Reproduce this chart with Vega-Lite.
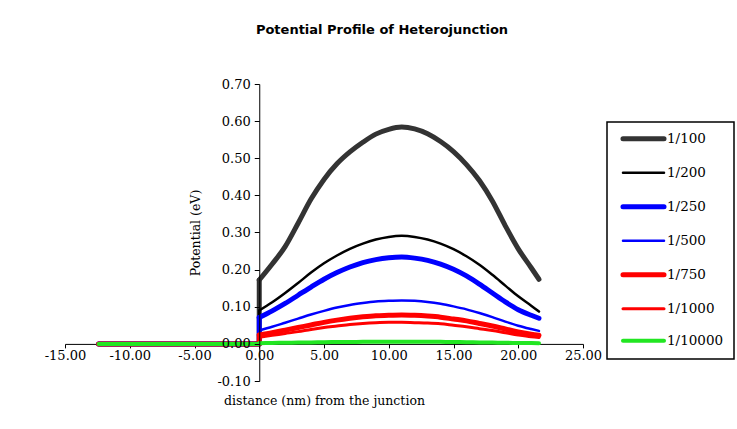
{
"$schema": "https://vega.github.io/schema/vega-lite/v6.json",
"width": 518, "height": 297,
"autosize": {"type": "none"},
"padding": {"left": 65, "top": 84, "right": 154, "bottom": 48},
"background": "white",
"title": {"text": "Potential Profile of Heterojunction", "font": "DejaVu Sans", "fontSize": 13, "fontWeight": "bold", "color": "#000000", "anchor": "middle", "frame": "group", "dx": 58, "offset": 41},
"config": {
  "view": {"stroke": null},
  "axis": {"grid": false, "domainColor": "#000000", "domainWidth": 1, "tickColor": "#000000", "tickWidth": 1, "labelFont": "DejaVu Serif", "labelFontSize": 13, "labelColor": "#000000", "titleFont": "DejaVu Serif", "titleFontSize": 12.5, "titleFontWeight": "normal", "titleColor": "#000000", "labelOverlap": false, "labelFlush": false},
  "legend": {"strokeWidth": 1.5}
},
"data": {"values": [
{"s":"1/100","p":"a","i":0,"x":-12.4,"v":0},{"s":"1/100","p":"a","i":1,"x":0,"v":0},{"s":"1/100","p":"a","i":2,"x":0,"v":0.172},
{"s":"1/100","p":"b","i":3,"x":0,"v":0.172},{"s":"1/100","p":"b","i":4,"x":1,"v":0.215},{"s":"1/100","p":"b","i":5,"x":2,"v":0.262},{"s":"1/100","p":"b","i":6,"x":3,"v":0.325},{"s":"1/100","p":"b","i":7,"x":4,"v":0.39},{"s":"1/100","p":"b","i":8,"x":5,"v":0.443},{"s":"1/100","p":"b","i":9,"x":6,"v":0.485},{"s":"1/100","p":"b","i":10,"x":7,"v":0.517},{"s":"1/100","p":"b","i":11,"x":8,"v":0.543},{"s":"1/100","p":"b","i":12,"x":9,"v":0.565},{"s":"1/100","p":"b","i":13,"x":10,"v":0.578},{"s":"1/100","p":"b","i":14,"x":11,"v":0.584},{"s":"1/100","p":"b","i":15,"x":12,"v":0.579},{"s":"1/100","p":"b","i":16,"x":13,"v":0.566},{"s":"1/100","p":"b","i":17,"x":14,"v":0.545},{"s":"1/100","p":"b","i":18,"x":15,"v":0.518},{"s":"1/100","p":"b","i":19,"x":16,"v":0.483},{"s":"1/100","p":"b","i":20,"x":17,"v":0.44},{"s":"1/100","p":"b","i":21,"x":18,"v":0.385},{"s":"1/100","p":"b","i":22,"x":19,"v":0.318},{"s":"1/100","p":"b","i":23,"x":20,"v":0.256},{"s":"1/100","p":"b","i":24,"x":21,"v":0.205},{"s":"1/100","p":"b","i":25,"x":21.6,"v":0.174},
{"s":"1/200","p":"a","i":0,"x":-12.4,"v":0},{"s":"1/200","p":"a","i":1,"x":0,"v":0},{"s":"1/200","p":"a","i":2,"x":0,"v":0.09},
{"s":"1/200","p":"b","i":3,"x":0,"v":0.09},{"s":"1/200","p":"b","i":4,"x":1,"v":0.112},{"s":"1/200","p":"b","i":5,"x":2,"v":0.137},{"s":"1/200","p":"b","i":6,"x":3,"v":0.164},{"s":"1/200","p":"b","i":7,"x":4,"v":0.192},{"s":"1/200","p":"b","i":8,"x":5,"v":0.217},{"s":"1/200","p":"b","i":9,"x":6,"v":0.238},{"s":"1/200","p":"b","i":10,"x":7,"v":0.256},{"s":"1/200","p":"b","i":11,"x":8,"v":0.27},{"s":"1/200","p":"b","i":12,"x":9,"v":0.281},{"s":"1/200","p":"b","i":13,"x":10,"v":0.288},{"s":"1/200","p":"b","i":14,"x":11,"v":0.291},{"s":"1/200","p":"b","i":15,"x":12,"v":0.288},{"s":"1/200","p":"b","i":16,"x":13,"v":0.281},{"s":"1/200","p":"b","i":17,"x":14,"v":0.27},{"s":"1/200","p":"b","i":18,"x":15,"v":0.255},{"s":"1/200","p":"b","i":19,"x":16,"v":0.236},{"s":"1/200","p":"b","i":20,"x":17,"v":0.213},{"s":"1/200","p":"b","i":21,"x":18,"v":0.186},{"s":"1/200","p":"b","i":22,"x":19,"v":0.157},{"s":"1/200","p":"b","i":23,"x":20,"v":0.128},{"s":"1/200","p":"b","i":24,"x":21,"v":0.103},{"s":"1/200","p":"b","i":25,"x":21.6,"v":0.087},
{"s":"1/250","p":"a","i":0,"x":-12.4,"v":0},{"s":"1/250","p":"a","i":1,"x":0,"v":0},{"s":"1/250","p":"a","i":2,"x":0,"v":0.071},
{"s":"1/250","p":"b","i":3,"x":0,"v":0.071},{"s":"1/250","p":"b","i":4,"x":1,"v":0.089},{"s":"1/250","p":"b","i":5,"x":2,"v":0.109},{"s":"1/250","p":"b","i":6,"x":3,"v":0.131},{"s":"1/250","p":"b","i":7,"x":4,"v":0.153},{"s":"1/250","p":"b","i":8,"x":5,"v":0.174},{"s":"1/250","p":"b","i":9,"x":6,"v":0.192},{"s":"1/250","p":"b","i":10,"x":7,"v":0.207},{"s":"1/250","p":"b","i":11,"x":8,"v":0.219},{"s":"1/250","p":"b","i":12,"x":9,"v":0.227},{"s":"1/250","p":"b","i":13,"x":10,"v":0.232},{"s":"1/250","p":"b","i":14,"x":11,"v":0.234},{"s":"1/250","p":"b","i":15,"x":12,"v":0.231},{"s":"1/250","p":"b","i":16,"x":13,"v":0.225},{"s":"1/250","p":"b","i":17,"x":14,"v":0.215},{"s":"1/250","p":"b","i":18,"x":15,"v":0.201},{"s":"1/250","p":"b","i":19,"x":16,"v":0.183},{"s":"1/250","p":"b","i":20,"x":17,"v":0.161},{"s":"1/250","p":"b","i":21,"x":18,"v":0.137},{"s":"1/250","p":"b","i":22,"x":19,"v":0.113},{"s":"1/250","p":"b","i":23,"x":20,"v":0.092},{"s":"1/250","p":"b","i":24,"x":21,"v":0.077},{"s":"1/250","p":"b","i":25,"x":21.6,"v":0.069},
{"s":"1/500","p":"a","i":0,"x":-12.4,"v":0},{"s":"1/500","p":"a","i":1,"x":0,"v":0},{"s":"1/500","p":"a","i":2,"x":0,"v":0.036},
{"s":"1/500","p":"b","i":3,"x":0,"v":0.036},{"s":"1/500","p":"b","i":4,"x":1,"v":0.046},{"s":"1/500","p":"b","i":5,"x":2,"v":0.057},{"s":"1/500","p":"b","i":6,"x":3,"v":0.068},{"s":"1/500","p":"b","i":7,"x":4,"v":0.079},{"s":"1/500","p":"b","i":8,"x":5,"v":0.089},{"s":"1/500","p":"b","i":9,"x":6,"v":0.098},{"s":"1/500","p":"b","i":10,"x":7,"v":0.105},{"s":"1/500","p":"b","i":11,"x":8,"v":0.11},{"s":"1/500","p":"b","i":12,"x":9,"v":0.114},{"s":"1/500","p":"b","i":13,"x":10,"v":0.116},{"s":"1/500","p":"b","i":14,"x":11,"v":0.117},{"s":"1/500","p":"b","i":15,"x":12,"v":0.116},{"s":"1/500","p":"b","i":16,"x":13,"v":0.113},{"s":"1/500","p":"b","i":17,"x":14,"v":0.108},{"s":"1/500","p":"b","i":18,"x":15,"v":0.101},{"s":"1/500","p":"b","i":19,"x":16,"v":0.093},{"s":"1/500","p":"b","i":20,"x":17,"v":0.083},{"s":"1/500","p":"b","i":21,"x":18,"v":0.072},{"s":"1/500","p":"b","i":22,"x":19,"v":0.06},{"s":"1/500","p":"b","i":23,"x":20,"v":0.049},{"s":"1/500","p":"b","i":24,"x":21,"v":0.04},{"s":"1/500","p":"b","i":25,"x":21.6,"v":0.035},
{"s":"1/750","p":"a","i":0,"x":-12.4,"v":0},{"s":"1/750","p":"a","i":1,"x":0,"v":0},{"s":"1/750","p":"a","i":2,"x":0,"v":0.024},
{"s":"1/750","p":"b","i":3,"x":0,"v":0.024},{"s":"1/750","p":"b","i":4,"x":1,"v":0.03},{"s":"1/750","p":"b","i":5,"x":2,"v":0.037},{"s":"1/750","p":"b","i":6,"x":3,"v":0.044},{"s":"1/750","p":"b","i":7,"x":4,"v":0.051},{"s":"1/750","p":"b","i":8,"x":5,"v":0.058},{"s":"1/750","p":"b","i":9,"x":6,"v":0.064},{"s":"1/750","p":"b","i":10,"x":7,"v":0.069},{"s":"1/750","p":"b","i":11,"x":8,"v":0.073},{"s":"1/750","p":"b","i":12,"x":9,"v":0.076},{"s":"1/750","p":"b","i":13,"x":10,"v":0.077},{"s":"1/750","p":"b","i":14,"x":11,"v":0.078},{"s":"1/750","p":"b","i":15,"x":12,"v":0.077},{"s":"1/750","p":"b","i":16,"x":13,"v":0.075},{"s":"1/750","p":"b","i":17,"x":14,"v":0.072},{"s":"1/750","p":"b","i":18,"x":15,"v":0.067},{"s":"1/750","p":"b","i":19,"x":16,"v":0.062},{"s":"1/750","p":"b","i":20,"x":17,"v":0.055},{"s":"1/750","p":"b","i":21,"x":18,"v":0.048},{"s":"1/750","p":"b","i":22,"x":19,"v":0.04},{"s":"1/750","p":"b","i":23,"x":20,"v":0.032},{"s":"1/750","p":"b","i":24,"x":21,"v":0.026},{"s":"1/750","p":"b","i":25,"x":21.6,"v":0.023},
{"s":"1/1000","p":"a","i":0,"x":-12.4,"v":0},{"s":"1/1000","p":"a","i":1,"x":0,"v":0},{"s":"1/1000","p":"a","i":2,"x":0,"v":0.018},
{"s":"1/1000","p":"b","i":3,"x":0,"v":0.018},{"s":"1/1000","p":"b","i":4,"x":1,"v":0.023},{"s":"1/1000","p":"b","i":5,"x":2,"v":0.028},{"s":"1/1000","p":"b","i":6,"x":3,"v":0.033},{"s":"1/1000","p":"b","i":7,"x":4,"v":0.039},{"s":"1/1000","p":"b","i":8,"x":5,"v":0.044},{"s":"1/1000","p":"b","i":9,"x":6,"v":0.048},{"s":"1/1000","p":"b","i":10,"x":7,"v":0.052},{"s":"1/1000","p":"b","i":11,"x":8,"v":0.055},{"s":"1/1000","p":"b","i":12,"x":9,"v":0.057},{"s":"1/1000","p":"b","i":13,"x":10,"v":0.058},{"s":"1/1000","p":"b","i":14,"x":11,"v":0.058},{"s":"1/1000","p":"b","i":15,"x":12,"v":0.057},{"s":"1/1000","p":"b","i":16,"x":13,"v":0.056},{"s":"1/1000","p":"b","i":17,"x":14,"v":0.054},{"s":"1/1000","p":"b","i":18,"x":15,"v":0.05},{"s":"1/1000","p":"b","i":19,"x":16,"v":0.046},{"s":"1/1000","p":"b","i":20,"x":17,"v":0.041},{"s":"1/1000","p":"b","i":21,"x":18,"v":0.036},{"s":"1/1000","p":"b","i":22,"x":19,"v":0.03},{"s":"1/1000","p":"b","i":23,"x":20,"v":0.024},{"s":"1/1000","p":"b","i":24,"x":21,"v":0.019},{"s":"1/1000","p":"b","i":25,"x":21.6,"v":0.017},
{"s":"1/10000","p":"a","i":0,"x":-12.4,"v":0},{"s":"1/10000","p":"a","i":1,"x":0,"v":0},{"s":"1/10000","p":"a","i":2,"x":0,"v":0.002},
{"s":"1/10000","p":"b","i":3,"x":0,"v":0.002},{"s":"1/10000","p":"b","i":4,"x":1,"v":0.0025},{"s":"1/10000","p":"b","i":5,"x":2,"v":0.003},{"s":"1/10000","p":"b","i":6,"x":3,"v":0.0035},{"s":"1/10000","p":"b","i":7,"x":4,"v":0.004},{"s":"1/10000","p":"b","i":8,"x":5,"v":0.0045},{"s":"1/10000","p":"b","i":9,"x":6,"v":0.005},{"s":"1/10000","p":"b","i":10,"x":7,"v":0.0052},{"s":"1/10000","p":"b","i":11,"x":8,"v":0.0055},{"s":"1/10000","p":"b","i":12,"x":9,"v":0.0057},{"s":"1/10000","p":"b","i":13,"x":10,"v":0.0058},{"s":"1/10000","p":"b","i":14,"x":11,"v":0.006},{"s":"1/10000","p":"b","i":15,"x":12,"v":0.0058},{"s":"1/10000","p":"b","i":16,"x":13,"v":0.0057},{"s":"1/10000","p":"b","i":17,"x":14,"v":0.0055},{"s":"1/10000","p":"b","i":18,"x":15,"v":0.005},{"s":"1/10000","p":"b","i":19,"x":16,"v":0.0046},{"s":"1/10000","p":"b","i":20,"x":17,"v":0.004},{"s":"1/10000","p":"b","i":21,"x":18,"v":0.0036},{"s":"1/10000","p":"b","i":22,"x":19,"v":0.003},{"s":"1/10000","p":"b","i":23,"x":20,"v":0.0025},{"s":"1/10000","p":"b","i":24,"x":21,"v":0.0022},{"s":"1/10000","p":"b","i":25,"x":21.6,"v":0.002}
]},
"encoding": {
  "x": {"field": "x", "type": "quantitative",
        "scale": {"domain": [-15, 25], "nice": false, "zero": false},
        "axis": {"title": "distance (nm) from the junction", "values": [-15,-10,-5,0,5,10,15,20,25], "labelExpr": "replace(format(datum.value,'.2f'),'−','-')", "offset": -37.1, "tickSize": 4, "labelPadding": 2, "titlePadding": 32}},
  "y": {"field": "v", "type": "quantitative",
        "scale": {"domain": [-0.1, 0.7], "nice": false, "zero": false},
        "axis": {"title": "Potential (eV)", "values": [-0.1,0,0.1,0.2,0.3,0.4,0.5,0.6,0.7], "labelExpr": "replace(format(datum.value,'.2f'),'−','-')", "offset": -194.25, "tickSize": 5, "labelPadding": 4, "titlePadding": 14, "zindex": 1}},
  "color": {"field": "s", "type": "nominal",
        "scale": {"domain": ["1/100","1/200","1/250","1/500","1/750","1/1000","1/10000"], "range": ["#333333","#000000","#0000ff","#0000ff","#ff0000","#ff0000","#22e622"]},
        "legend": {"title": null, "orient": "none", "legendX": 542, "legendY": 38, "symbolType": "M-8,0H8", "symbolSize": 26.3, "symbolOffset": 19.75, "strokeColor": "#000000", "fillColor": "#ffffff", "padding": 10, "labelFont": "DejaVu Serif", "labelFontSize": 13.5, "labelColor": "#000000", "labelOffset": 16.75, "rowPadding": 16,
                   "encode": {"symbols": {"update": {"strokeCap": {"value": "round"}}}}}},
  "strokeWidth": {"field": "s", "type": "nominal",
        "scale": {"type": "ordinal", "domain": ["1/100","1/200","1/250","1/500","1/750","1/1000","1/10000"], "range": [5,2.5,5,2.5,5,3,4]}},
  "order": {"field": "i", "type": "quantitative"}
},
"layer": [
  {"transform": [{"filter": "datum.p == 'a'"}], "mark": {"type": "line", "interpolate": "linear", "strokeCap": "round", "strokeJoin": "round"}},
  {"transform": [{"filter": "datum.p == 'b'"}], "mark": {"type": "line", "interpolate": "monotone", "strokeCap": "round", "strokeJoin": "round"}}
]
}
